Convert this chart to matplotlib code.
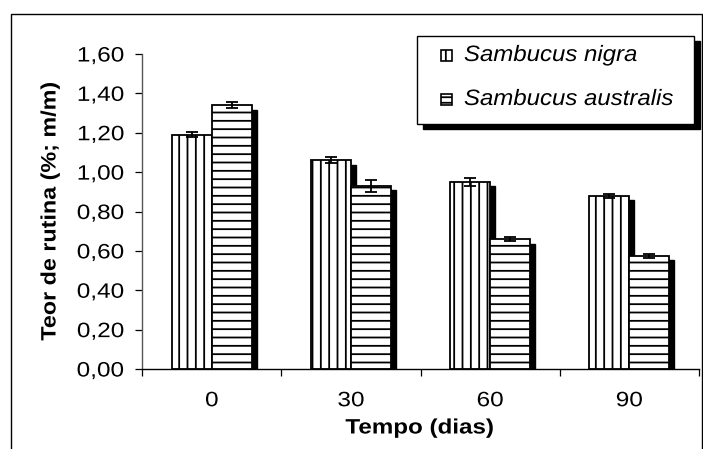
import matplotlib
matplotlib.use("Agg")
import matplotlib.pyplot as plt
import matplotlib.transforms as mtransforms
from matplotlib.transforms import Affine2D
from matplotlib.patches import Rectangle
from matplotlib.patheffects import AbstractPathEffect
import numpy as np

categories = ["0", "30", "60", "90"]
series_names = ["Sambucus nigra", "Sambucus australis"]
nigra = [1.19, 1.06, 0.95, 0.88]
nigra_err = [0.012, 0.015, 0.019, 0.010]
australis = [1.34, 0.93, 0.66, 0.575]
australis_err = [0.015, 0.03, 0.010, 0.010]
yticks = [0.0, 0.2, 0.4, 0.6, 0.8, 1.0, 1.2, 1.4, 1.6]
ytick_labels = ["0,00", "0,20", "0,40", "0,60", "0,80", "1,00", "1,20", "1,40", "1,60"]

plt.rcParams["font.family"] = ["Liberation Sans", "DejaVu Sans"]
plt.rcParams["hatch.linewidth"] = 1.3
plt.rcParams["hatch.color"] = "black"


class HStretch(AbstractPathEffect):
    """Stretch glyphs horizontally (along the text direction)."""
    def __init__(self, sx, anchor=0.5):
        super().__init__()
        self.sx = sx
        self.anchor = anchor

    def draw_path(self, renderer, gc, tpath, affine, rgbFace=None):
        ext = tpath.get_extents()
        x0 = ext.x0 + self.anchor * ext.width
        t = Affine2D().translate(-x0, 0).scale(self.sx, 1).translate(x0, 0) + affine
        renderer.draw_path(gc, tpath, t, rgbFace)


W, H = 703, 449
fig = plt.figure(figsize=(W / 100, H / 100), dpi=100)


def fx(px):
    return px / W


def fy(py):
    return 1 - py / H


ax_left, ax_right, ax_top, ax_bot = 142.3, 699, 54, 369
ax = fig.add_axes([fx(ax_left), fy(ax_bot), fx(ax_right - ax_left), (ax_bot - ax_top) / H])

x = np.arange(len(categories))
bw = 40 / 139.2
shadow_tr = ax.transData + mtransforms.ScaledTranslation(5 / 100, -4.5 / 100, fig.dpi_scale_trans)

for vals, off in [(nigra, -bw / 2), (australis, bw / 2)]:
    ax.bar(x + off, vals, bw, color="black", edgecolor="black", transform=shadow_tr, zorder=1)

ax.bar(x - bw / 2, nigra, bw, color="white", edgecolor="black", linewidth=1.3, hatch="||", zorder=2)
ax.bar(x + bw / 2, australis, bw, color="white", edgecolor="black", linewidth=1.3, hatch="--", zorder=2)
ax.errorbar(x - bw / 2, nigra, yerr=nigra_err, fmt="none", ecolor="black", elinewidth=1.3,
            capsize=4, capthick=1.3, zorder=3)
ax.errorbar(x + bw / 2, australis, yerr=australis_err, fmt="none", ecolor="black", elinewidth=1.3,
            capsize=4, capthick=1.3, zorder=3)

ax.set_xlim(-0.5, len(categories) - 0.5)
ax.set_ylim(0, 1.6)
ax.set_yticks(yticks)
ax.set_yticklabels(ytick_labels)
ax.set_xticks(x)
ax.set_xticklabels(categories)
ax.set_xticks(np.arange(len(categories) + 1) - 0.5, minor=True)
ax.tick_params(axis="x", which="major", length=0, pad=16, labelsize=15)
ax.tick_params(axis="x", which="minor", length=5, width=0.9, direction="out")
ax.tick_params(axis="y", length=5, width=0.9, pad=8, labelsize=15, direction="out")

for lab in ax.get_yticklabels():
    lab.set_path_effects([HStretch(1.17, anchor=1.0)])
for lab in ax.get_xticklabels():
    lab.set_path_effects([HStretch(1.17, anchor=0.5)])

for s in ["top", "right"]:
    ax.spines[s].set_visible(False)
ax.spines["left"].set_color("#555555")
ax.spines["left"].set_linewidth(1.0)
ax.spines["bottom"].set_linewidth(1.0)

fig.text(fx(50), fy(211), "Teor de rutina (%; m/m)", rotation=90, ha="center", va="center",
         fontsize=15, fontweight="bold", path_effects=[HStretch(1.12, 0.5)])
fig.text(fx(420), fy(428), "Tempo (dias)", ha="center", va="center", fontsize=15, fontweight="bold",
         path_effects=[HStretch(1.16, 0.5)])

# outer frame
fig.patches.append(Rectangle((fx(11), fy(460)), fx(702 - 11), (460 - 14) / H, transform=fig.transFigure,
                             fill=False, edgecolor="black", linewidth=1.0))

# legend box with shadow
lx0, lx1, ly0, ly1 = 417, 694, 36, 124
fig.patches.append(Rectangle((fx(lx0 + 6), fy(ly1 + 5)), fx(lx1 - lx0), (ly1 - ly0) / H,
                             transform=fig.transFigure, facecolor="black", edgecolor="black", zorder=5))
fig.patches.append(Rectangle((fx(lx0), fy(ly1)), fx(lx1 - lx0), (ly1 - ly0) / H,
                             transform=fig.transFigure, facecolor="white", edgecolor="black",
                             linewidth=1.0, zorder=6))
for name, hatch, cy in [(series_names[0], "||", 55.5), (series_names[1], "---", 99.5)]:
    fig.patches.append(Rectangle((fx(441), fy(cy + 5.5)), fx(11), 11 / H, transform=fig.transFigure,
                                 facecolor="white", edgecolor="black", linewidth=1.2, hatch=hatch, zorder=7))
    fig.text(fx(464), fy(cy), name, ha="left", va="center", fontsize=16, style="italic", zorder=8,
             path_effects=[HStretch(1.08, 0.0)])

fig.savefig("out.png", dpi=100)
